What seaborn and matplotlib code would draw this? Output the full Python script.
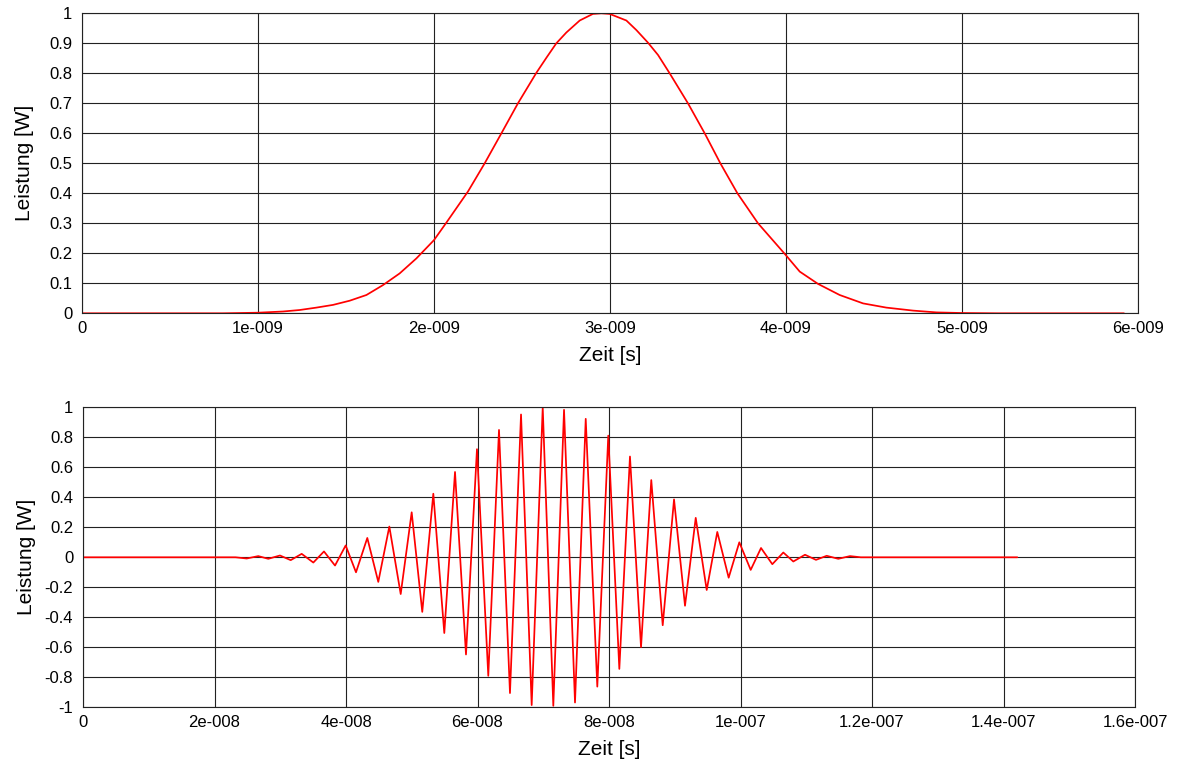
import numpy as np
import seaborn as sns
import matplotlib
matplotlib.use('Agg')
import matplotlib.pyplot as plt

# top chart: single pulse, time in ns
pulse_t_ns = [0, 0.8, 1.0, 1.142, 1.237, 1.332, 1.426, 1.521, 1.616, 1.710, 1.805,
              1.900, 2.0, 2.070, 2.193, 2.288, 2.383, 2.477, 2.582, 2.640, 2.695,
              2.752, 2.828, 2.903, 2.951, 2.998, 3.093, 3.150, 3.216, 3.273, 3.339,
              3.443, 3.538, 3.627, 3.724, 3.841, 3.993, 4.078, 4.182, 4.305, 4.438,
              4.570, 4.722, 4.855, 4.997, 5.2, 5.92]
pulse_p = [0, 0.0, 0.002, 0.006, 0.011, 0.019, 0.028, 0.042, 0.061, 0.094, 0.133,
           0.183, 0.244, 0.302, 0.406, 0.5, 0.6, 0.70, 0.802, 0.853, 0.90,
           0.936, 0.976, 0.998, 1.0, 0.998, 0.976, 0.944, 0.902, 0.861, 0.80,
           0.70, 0.60, 0.50, 0.40, 0.30, 0.198, 0.139, 0.098, 0.061, 0.033,
           0.019, 0.009, 0.003, 0.001, 0.0, 0.0]

# bottom chart: oscillating signal, extrema, time in ns
wave_t_ns = [0, 23.2, 24.9, 26.66, 28.18, 29.96, 31.59, 33.26, 35.03, 36.65, 38.33,
             39.95, 41.52, 43.24, 44.91, 46.59, 48.32, 49.99, 51.60, 53.28, 54.95,
             56.58, 58.25, 59.92, 61.64, 63.27, 64.94, 66.62, 68.24, 69.92, 71.53,
             73.16, 74.83, 76.46, 78.22, 79.89, 81.57, 83.19, 84.87, 86.43, 88.17,
             89.89, 91.56, 93.19, 94.86, 96.47, 98.20, 99.82, 101.55, 103.12, 104.84,
             106.51, 108.03, 109.81, 111.48, 113.11, 114.87, 116.66, 118.3, 142.1]
wave_p = [0, 0, -0.008, 0.008, -0.010, 0.012, -0.019, 0.023, -0.035, 0.039, -0.055,
          0.079, -0.10, 0.129, -0.164, 0.205, -0.245, 0.30, -0.364, 0.424, -0.505,
          0.569, -0.648, 0.721, -0.79, 0.849, -0.905, 0.952, -0.985, 1.0, -0.99,
          0.983, -0.968, 0.923, -0.862, 0.811, -0.744, 0.672, -0.599, 0.515, -0.453,
          0.386, -0.323, 0.263, -0.218, 0.169, -0.136, 0.10, -0.084, 0.062, -0.046,
          0.032, -0.028, 0.017, -0.017, 0.010, -0.010, 0.008, 0, 0]

top_xticks = [0, 1e-9, 2e-9, 3e-9, 4e-9, 5e-9, 6e-9]
top_xlabels = ['0', '1e-009', '2e-009', '3e-009', '4e-009', '5e-009', '6e-009']
top_yticks = [0, 0.1, 0.2, 0.3, 0.4, 0.5, 0.6, 0.7, 0.8, 0.9, 1]
top_ylabels = ['0', '0.1', '0.2', '0.3', '0.4', '0.5', '0.6', '0.7', '0.8', '0.9', '1']

bot_xticks = [0, 2e-8, 4e-8, 6e-8, 8e-8, 1e-7, 1.2e-7, 1.4e-7, 1.6e-7]
bot_xlabels = ['0', '2e-008', '4e-008', '6e-008', '8e-008', '1e-007', '1.2e-007',
               '1.4e-007', '1.6e-007']
bot_yticks = [-1, -0.8, -0.6, -0.4, -0.2, 0, 0.2, 0.4, 0.6, 0.8, 1]
bot_ylabels = ['-1', '-0.8', '-0.6', '-0.4', '-0.2', '0', '0.2', '0.4', '0.6', '0.8', '1']

sns.set_theme(style='white')
plt.rcParams['font.family'] = ['Liberation Sans', 'DejaVu Sans']

fig = plt.figure(figsize=(11.8, 7.62), dpi=100)
ax1 = fig.add_axes([82 / 1180, 1 - 313.3 / 762, 1056 / 1180, 300 / 762])
ax2 = fig.add_axes([83 / 1180, 1 - 707.3 / 762, 1052 / 1180, 300 / 762])


def style_axes(ax, xticks, xlabels, yticks, ylabels, xlim, ylim):
    ax.set_xlim(*xlim)
    ax.set_ylim(*ylim)
    ax.set_xticks(xticks)
    ax.set_xticklabels(xlabels)
    ax.set_yticks(yticks)
    ax.set_yticklabels(ylabels)
    ax.grid(True, color='#222222', linewidth=0.8)
    ax.set_axisbelow(True)
    for sp in ax.spines.values():
        sp.set_color('#222222')
        sp.set_linewidth(0.8)
    ax.tick_params(axis='both', direction='out', length=3.6, width=0.8,
                   color='#222222', labelsize=12, labelcolor='black', pad=2)
    ax.tick_params(axis='y', pad=3.5)
    ax.set_xlabel('Zeit [s]', fontsize=15, color='black', labelpad=7)
    ax.set_ylabel('Leistung [W]', fontsize=15, color='black')
    ax.yaxis.set_label_coords(-0.045, 0.5)


sns.lineplot(x=np.array(pulse_t_ns) * 1e-9, y=pulse_p, ax=ax1, color='red',
             linewidth=1.25, estimator=None, sort=False)
style_axes(ax1, top_xticks, top_xlabels, top_yticks, top_ylabels, (0, 6e-9), (0, 1))

sns.lineplot(x=np.array(wave_t_ns) * 1e-9, y=wave_p, ax=ax2, color='red',
             linewidth=1.25, estimator=None, sort=False)
style_axes(ax2, bot_xticks, bot_xlabels, bot_yticks, bot_ylabels, (0, 1.6e-7), (-1, 1))

fig.savefig('out.png', dpi=100)
